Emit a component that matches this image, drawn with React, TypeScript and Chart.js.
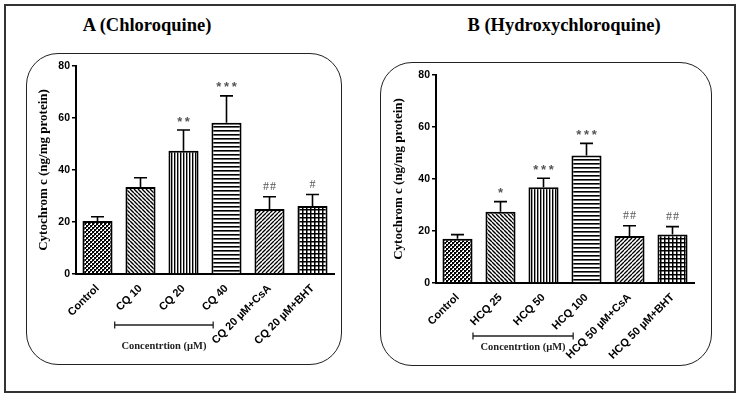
import React, { useEffect, useRef } from 'react';
import { Chart, registerables } from 'chart.js';
Chart.register(...registerables);

// ---- data ----
const cqLabels = ['Control', 'CQ 10', 'CQ 20', 'CQ 40', 'CQ 20 µM+CsA', 'CQ 20 µM+BHT'];
const cqMeans = [20.4, 33.5, 47.4, 58.2, 25.0, 26.2];
const cqSem = [1.6, 3.5, 8.0, 10.3, 4.7, 4.4];
const cqMarks = ['', '', '**', '***', '##', '#'];

const hcqLabels = ['Control', 'HCQ 25', 'HCQ 50', 'HCQ 100', 'HCQ 50 µM+CsA', 'HCQ 50 µM+BHT'];
const hcqMeans = [17.0, 27.4, 36.8, 49.0, 18.1, 18.7];
const hcqSem = [1.6, 3.9, 3.5, 4.7, 3.9, 3.0];
const hcqMarks = ['', '*', '***', '***', '##', '##'];

const yMin = 0;
const yMax = 80;
const yStep = 20;
const yTitle = 'Cytochrom c (ng/mg protein)';
const bracketText = 'Concentrtion (µM)';

function tile(size: number, draw: (c: CanvasRenderingContext2D) => void): CanvasPattern {
  const cv = document.createElement('canvas');
  cv.width = size;
  cv.height = size;
  const c = cv.getContext('2d')!;
  c.fillStyle = '#fff';
  c.fillRect(0, 0, size, size);
  c.fillStyle = '#000';
  c.strokeStyle = '#000';
  draw(c);
  return c.createPattern(cv, 'repeat')!;
}

function makePatterns(): CanvasPattern[] {
  const checker = tile(4, (c) => {
    c.fillRect(0, 0, 2, 2);
    c.fillRect(2, 2, 2, 2);
    c.fillStyle = '#555';
    c.fillRect(2, 0, 1, 1);
    c.fillRect(0, 2, 1, 1);
  });
  const diagDown = tile(4, (c) => {
    c.lineWidth = 1.4;
    c.beginPath();
    for (const k of [-4, 0, 4]) {
      c.moveTo(k, 0);
      c.lineTo(k + 4, 4);
    }
    c.stroke();
  });
  const vertical = tile(3, (c) => {
    c.fillRect(1, 0, 1.4, 3);
  });
  const horizontal = tile(4, (c) => {
    c.fillRect(0, 1, 4, 1.6);
  });
  const diagUp = tile(4, (c) => {
    c.lineWidth = 1.3;
    c.beginPath();
    for (const k of [-4, 0, 4]) {
      c.moveTo(k, 4);
      c.lineTo(k + 4, 0);
    }
    c.stroke();
  });
  const grid = tile(4, (c) => {
    c.fillRect(0, 0, 4, 1.5);
    c.fillRect(0, 0, 1.5, 4);
  });
  return [checker, diagDown, vertical, horizontal, diagUp, grid];
}

type PanelCfg = {
  labels: string[];
  means: number[];
  sems: number[];
  marks: string[];
  left: number;
  top: number;
  width: number;
  height: number;
  yWidth: number;
  xHeight: number;
  padTop: number;
  padRight: number;
  titlePad: number;
  bracketFrom: number;
  bracketTo: number;
  bracketDy: number;
  textDy: number;
};

function Panel(p: PanelCfg) {
  const ref = useRef<HTMLCanvasElement>(null);
  useEffect(() => {
    const canvas = ref.current!;
    const patterns = makePatterns();
    const overlay = {
      id: 'overlay',
      afterDatasetsDraw(chart: any) {
        const ctx = chart.ctx as CanvasRenderingContext2D;
        const y = chart.scales.y;
        const meta = chart.getDatasetMeta(0);
        meta.data.forEach((bar: any, i: number) => {
          const top = y.getPixelForValue(p.means[i]);
          const et = y.getPixelForValue(p.means[i] + p.sems[i]);
          ctx.save();
          ctx.strokeStyle = '#000';
          ctx.lineWidth = 1.6;
          ctx.beginPath();
          ctx.moveTo(bar.x, top);
          ctx.lineTo(bar.x, et);
          ctx.moveTo(bar.x - 6.5, et);
          ctx.lineTo(bar.x + 6.5, et);
          ctx.stroke();
          const m = p.marks[i];
          if (m) {
            ctx.fillStyle = '#555';
            ctx.textAlign = 'center';
            ctx.textBaseline = 'middle';
            if (m.startsWith('#')) {
              ctx.font = '12px "Liberation Serif"';
              ctx.fillText(m.split('').join('\u200A'), bar.x, et - 10);
            } else {
              ctx.font = 'bold 13px "Liberation Sans"';
              ctx.fillText(m.split('').join('\u2009'), bar.x, et - 8);
            }
          }
          ctx.restore();
        });
      },
      afterDraw(chart: any) {
        const ctx = chart.ctx as CanvasRenderingContext2D;
        const x = chart.scales.x;
        const x0 = x.getPixelForValue(p.bracketFrom);
        const x1 = x.getPixelForValue(p.bracketTo);
        const by = chart.chartArea.bottom + p.bracketDy;
        ctx.save();
        ctx.strokeStyle = '#222';
        ctx.lineWidth = 1.3;
        ctx.beginPath();
        ctx.moveTo(x0, by);
        ctx.lineTo(x1, by);
        ctx.moveTo(x0, by - 3.5);
        ctx.lineTo(x0, by + 3.5);
        ctx.moveTo(x1, by - 3.5);
        ctx.lineTo(x1, by + 3.5);
        ctx.stroke();
        ctx.fillStyle = '#222';
        ctx.font = 'bold 10.5px "Liberation Serif"';
        ctx.textAlign = 'center';
        ctx.textBaseline = 'middle';
        ctx.fillText(bracketText, (x0 + x1) / 2, chart.chartArea.bottom + p.textDy);
        ctx.restore();
      },
    };
    const zeroPad = (s: any) => {
      s.paddingLeft = 0;
      s.paddingRight = 0;
      s.paddingTop = 0;
      s.paddingBottom = 0;
    };
    const chart = new Chart(canvas, {
      type: 'bar',
      data: {
        labels: p.labels,
        datasets: [
          {
            data: p.means,
            backgroundColor: patterns as any,
            borderColor: '#000',
            borderWidth: 2,
            barPercentage: 0.7,
            categoryPercentage: 1,
          },
        ],
      },
      options: {
        animation: false,
        responsive: false,
        devicePixelRatio: 1,
        layout: { padding: { top: p.padTop, right: p.padRight, left: 0, bottom: 0 } },
        plugins: { legend: { display: false }, tooltip: { enabled: false }, title: { display: false } },
        scales: {
          x: {
            afterFit: (s: any) => {
              s.height = p.xHeight;
              zeroPad(s);
            },
            grid: { display: false },
            border: { display: true, color: '#000', width: 2 },
            ticks: {
              autoSkip: false,
              minRotation: 45,
              maxRotation: 45,
              padding: 0,
              color: '#000',
              font: { family: 'Liberation Sans', weight: 'bold', size: 11 },
            },
          },
          y: {
            min: yMin,
            max: yMax,
            afterFit: (s: any) => {
              s.width = p.yWidth;
              zeroPad(s);
            },
            grid: { display: true, drawOnChartArea: false, drawTicks: true, tickLength: 4, color: '#000', lineWidth: 1.5 },
            border: { display: true, color: '#000', width: 2 },
            ticks: {
              stepSize: yStep,
              padding: 2,
              color: '#000',
              font: { family: 'Liberation Sans', weight: 'bold', size: 10.5 },
            },
            title: {
              display: true,
              text: yTitle,
              color: '#000',
              padding: { top: p.titlePad, bottom: 0 },
              font: { family: 'Liberation Serif', weight: 'bold', size: 13 },
            },
          },
        },
      },
      plugins: [overlay],
    });
    return () => chart.destroy();
  }, []);
  return (
    <>
      <div
        style={{
          position: 'absolute',
          left: p.left,
          top: p.top,
          width: p.width,
          height: p.height,
          boxSizing: 'border-box',
          border: '1.5px solid #222',
          borderRadius: 32,
        }}
      />
      <canvas
        ref={ref}
        width={p.width}
        height={p.height}
        style={{ position: 'absolute', left: p.left, top: p.top, width: p.width, height: p.height }}
      />
    </>
  );
}

const titleStyle: React.CSSProperties = {
  position: 'absolute',
  top: 14,
  fontFamily: '"Liberation Serif", serif',
  fontWeight: 'bold',
  fontSize: 18.5,
  lineHeight: '22px',
  whiteSpace: 'nowrap',
  transform: 'translateX(-50%)',
  color: '#000',
};

export default function App() {
  return (
    <div style={{ position: 'absolute', left: 0, top: 0, width: 744, height: 400, background: '#fff', overflow: 'hidden' }}>
      <div
        style={{
          position: 'absolute',
          left: 4,
          top: 4,
          width: 732,
          height: 389,
          boxSizing: 'border-box',
          border: '2px solid #333',
        }}
      />
      <div style={{ ...titleStyle, left: 147 }}>A (Chloroquine)</div>
      <div style={{ ...titleStyle, left: 564 }}>B (Hydroxychloroquine)</div>
      <Panel
        labels={cqLabels}
        means={cqMeans}
        sems={cqSem}
        marks={cqMarks}
        left={26}
        top={53}
        width={316}
        height={312}
        yWidth={50}
        xHeight={91}
        padTop={13}
        padRight={8}
        titlePad={10}
        bracketFrom={0.4}
        bracketTo={2.69}
        bracketDy={51}
        textDy={72}
      />
      <Panel
        labels={hcqLabels}
        means={hcqMeans}
        sems={hcqSem}
        marks={hcqMarks}
        left={380}
        top={62}
        width={332}
        height={304}
        yWidth={56}
        xHeight={83}
        padTop={13}
        padRight={18}
        titlePad={11}
        bracketFrom={0.36}
        bracketTo={2.69}
        bracketDy={53}
        textDy={64}
      />
    </div>
  );
}
